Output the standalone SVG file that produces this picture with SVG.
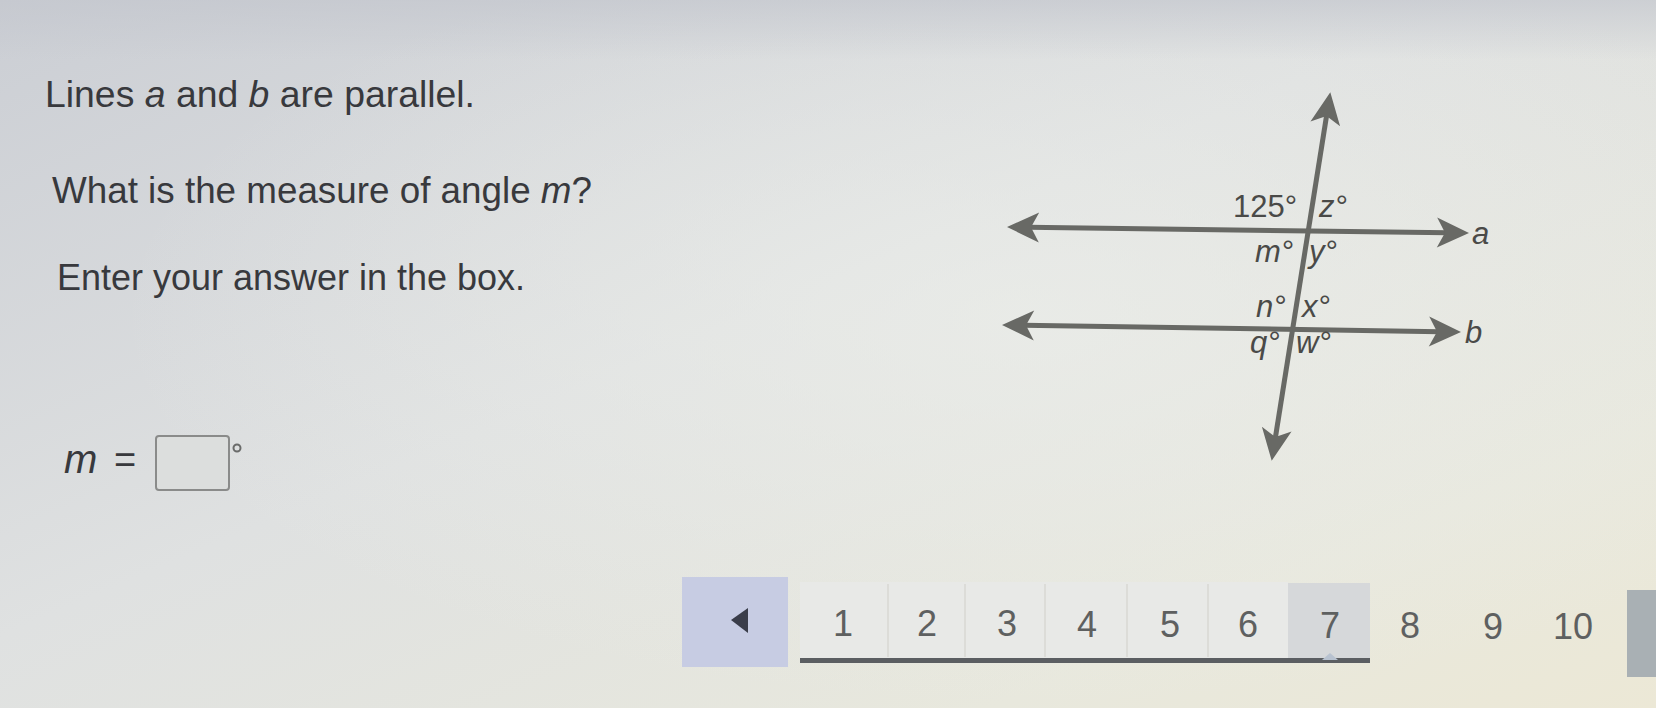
<svg xmlns="http://www.w3.org/2000/svg" width="1656" height="708" viewBox="0 0 1656 708">
<style>
.q{font-family:"Liberation Sans",Arial,sans-serif;fill:#38393d}
.lbl{font-family:"Liberation Sans",Arial,sans-serif;font-size:31px;fill:#4a4a48}
.it{font-style:italic}
.ln{stroke:#686965;stroke-width:5;fill:none}
.num{font-family:"Liberation Sans",Arial,sans-serif;font-size:36px;fill:#5e6060;text-anchor:middle}
.div{stroke:#dcdcd8;stroke-width:2}
</style>
<defs>
<linearGradient id="bg" x1="0" y1="0" x2="1" y2="1">
<stop offset="0" stop-color="#cbced4"/>
<stop offset="0.45" stop-color="#dfe1e1"/>
<stop offset="0.8" stop-color="#e8e8dd"/>
<stop offset="1" stop-color="#ece8d6"/>
</linearGradient>
<linearGradient id="topshade" x1="0" y1="0" x2="0" y2="1">
<stop offset="0" stop-color="#c4c7ce" stop-opacity="0.7"/>
<stop offset="1" stop-color="#c4c7ce" stop-opacity="0"/>
</linearGradient>
<radialGradient id="glow" cx="0.62" cy="0.45" r="0.55">
<stop offset="0" stop-color="#eceeea" stop-opacity="0.7"/>
<stop offset="1" stop-color="#eceeea" stop-opacity="0"/>
</radialGradient>
<marker id="arr" markerUnits="userSpaceOnUse" viewBox="-14 -17 38 34" markerWidth="38" markerHeight="34" refX="0" refY="0" orient="auto-start-reverse">
<path d="M 21 0 L -11 -15 L -3 0 L -11 15 Z" fill="#686965"/>
</marker>
</defs>
<rect width="1656" height="708" fill="url(#bg)"/>
<rect width="1656" height="708" fill="url(#glow)"/>
<rect x="0" y="0" width="1656" height="60" fill="url(#topshade)"/>

<g id="question">
<text class="q" x="45" y="107" font-size="36" textLength="430" lengthAdjust="spacingAndGlyphs">Lines <tspan class="it">a</tspan> and <tspan class="it">b</tspan> are parallel.</text>
<text class="q" x="52" y="203" font-size="36" textLength="540" lengthAdjust="spacingAndGlyphs">What is the measure of angle <tspan class="it">m</tspan>?</text>
<text class="q" x="57" y="290" font-size="36" textLength="468" lengthAdjust="spacingAndGlyphs">Enter your answer in the box.</text>
</g>

<g id="answer">
<text class="q it" x="64" y="473" font-size="40">m</text>
<text class="q" x="114" y="473" font-size="38">=</text>
<rect x="156" y="436" width="73" height="54" rx="3" fill="#dcdedd" stroke="#8a8b8a" stroke-width="2"/>
<circle cx="237" cy="448" r="3.5" fill="none" stroke="#6a6b6a" stroke-width="2"/>
</g>

<g id="connectors">
<line class="ln" x1="1028" y1="227.3" x2="1448" y2="232.7" marker-start="url(#arr)" marker-end="url(#arr)"/>
<line class="ln" x1="1023" y1="325.3" x2="1440" y2="331.7" marker-start="url(#arr)" marker-end="url(#arr)"/>
<line class="ln" x1="1327" y1="113" x2="1275" y2="440" marker-start="url(#arr)" marker-end="url(#arr)"/>
</g>

<g id="line-labels">
<text class="lbl it" x="1472" y="244">a</text>
<text class="lbl it" x="1465" y="343">b</text>
</g>

<g id="angles-a">
<text class="lbl" x="1233" y="217">125°</text>
<text class="lbl it" x="1319" y="217">z°</text>
<text class="lbl it" x="1255" y="262">m°</text>
<text class="lbl it" x="1309" y="262">y°</text>
</g>

<g id="angles-b">
<text class="lbl it" x="1256" y="317">n°</text>
<text class="lbl it" x="1302" y="317">x°</text>
<text class="lbl it" x="1250" y="353">q°</text>
<text class="lbl it" x="1296" y="353">w°</text>
</g>

<g id="pagination">
<rect x="682" y="577" width="106" height="90" fill="#c7cce3"/>
<path d="M 748 608 L 731 620 L 748 633 Z" fill="#3a3d4a"/>
<rect x="800" y="582" width="488" height="77" fill="#e8e9e7"/>
<rect x="1288" y="583" width="82" height="77" fill="#d6d8da"/>
<line class="div" x1="888" y1="584" x2="888" y2="657"/>
<line class="div" x1="965" y1="584" x2="965" y2="657"/>
<line class="div" x1="1045" y1="584" x2="1045" y2="657"/>
<line class="div" x1="1127" y1="584" x2="1127" y2="657"/>
<line class="div" x1="1208" y1="584" x2="1208" y2="657"/>
<rect x="800" y="658" width="570" height="5" fill="#5b5e62"/>
<path d="M 1322 660 L 1330 653 L 1338 660 Z" fill="#b8c2d0"/>
<text class="num" x="843" y="636">1</text>
<text class="num" x="927" y="636">2</text>
<text class="num" x="1007" y="636">3</text>
<text class="num" x="1087" y="637">4</text>
<text class="num" x="1170" y="637">5</text>
<text class="num" x="1248" y="637">6</text>
<text class="num" x="1330" y="638">7</text>
<text class="num" x="1410" y="638" fill="#7c7d78">8</text>
<text class="num" x="1493" y="639" fill="#808178">9</text>
<text class="num" x="1573" y="639" fill="#838479">10</text>
<rect x="1627" y="590" width="29" height="87" fill="#a9b0b4"/>
</g>
</svg>
